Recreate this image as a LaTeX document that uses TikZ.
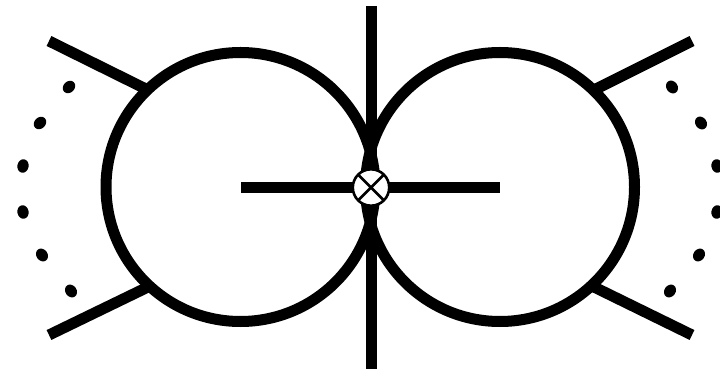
\documentclass[tikz,border=0pt]{standalone}
\usetikzlibrary{shapes.misc}
\tikzset{
  heavy/.style={line width=11pt,draw=black},
  loopcirc/.style={circle,draw=black,line width=11pt,minimum size=269pt,inner sep=0pt,outer sep=0pt},
  insertionbg/.style={circle,draw=black,fill=white,line width=2.6pt,minimum size=36.4pt,inner sep=0pt,outer sep=0pt},
  insertionx/.style={cross out,draw=black,line width=2.6pt,minimum size=26pt,inner sep=0pt,outer sep=0pt},
  dotmark/.style={fill=black,draw=none}
}
\begin{document}
\begin{tikzpicture}[x=1pt,y=-1pt]
\useasboundingbox (0,0) rectangle (720,371);
\fill[white] (0,0) rectangle (720,371);
\node[loopcirc] (L) at (240.5,187) {};
\node[loopcirc] (R) at (500,187) {};
\coordinate (top) at (371,6);
\coordinate (bot) at (371,369);
\coordinate (lc) at (241,187.5);
\coordinate (rc) at (500,187.5);
\coordinate (a1) at (49,41);  \coordinate (a2) at (148,90);
\coordinate (b1) at (49,335); \coordinate (b2) at (148,287);
\coordinate (c1) at (692,41); \coordinate (c2) at (594,90);
\coordinate (d1) at (692,335);\coordinate (d2) at (594,287);
\draw[heavy] (top) -- (bot);
\draw[heavy] (lc) -- (rc);
\draw[heavy] (a1) -- (a2);
\draw[heavy] (b1) -- (b2);
\draw[heavy] (c1) -- (c2);
\draw[heavy] (d1) -- (d2);
\node[insertionbg] (X) at (371,187.5) {};
\node[insertionx] at (X) {};
\foreach \x/\y/\r in {69/87/-45,40/123/-45,23/166/-10,23/212/10,42/255/35,71/291/35,
                      672/87/35,701/123/35,717/166/10,717/212/-10,699/255/-35,670/291/-35}
  \fill[dotmark,rotate around={\r:(\x,\y)}] (\x,\y) ellipse [x radius=5.6pt,y radius=6.8pt];
\end{tikzpicture}
\end{document}
